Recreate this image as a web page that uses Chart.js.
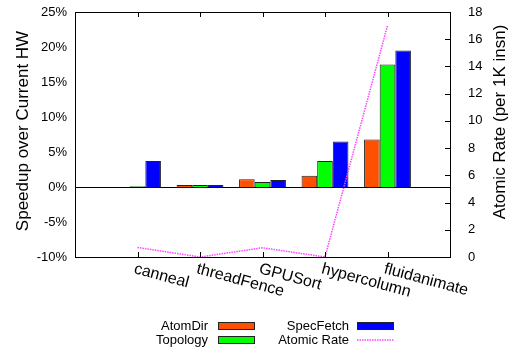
<!DOCTYPE html>
<html><head><meta charset="utf-8">
<script src="https://cdn.jsdelivr.net/npm/chart.js@4/dist/chart.umd.min.js"></script>
<style>html,body{margin:0;padding:0;background:#fff;}canvas{display:block;}</style>
</head><body>
<canvas id="c" width="511" height="350"></canvas>
<script>
const categories = ['canneal','threadFence','GPUSort','hypercolumn','fluidanimate'];
const atomDir    = [0.0, 0.3, 1.1, 1.6, 6.8];
const topology   = [0.1, 0.3, 0.7, 3.7, 17.5];
const specFetch  = [3.7, 0.3, 1.0, 6.5, 19.5];
const atomicRate = [0.7, 0.0, 0.68, 0.0, 17.0];
const leftTicks = [-10,-5,0,5,10,15,20,25];
const rightTicks = [0,2,4,6,8,10,12,14,16,18];
const leftTitle = 'Speedup over Current HW';
const rightTitle = 'Atomic Rate (per 1K insn)';

const pad = a => [null, ...a, null];
const labels = ['', ...categories, ''];
const FONT = "'Liberation Sans', Arial, sans-serif";

const decor = {
  id: 'decor',
  afterDatasetsDraw(chart) {
    const {ctx, chartArea: ca, scales} = chart;
    const x = scales.x, y = scales.y, y2 = scales.y2;
    ctx.save();
    ctx.strokeStyle = '#000'; ctx.lineWidth = 1;
    const z = Math.round(y.getPixelForValue(0)) + 0.5;
    ctx.beginPath(); ctx.moveTo(ca.left, z); ctx.lineTo(ca.right, z); ctx.stroke();
    ctx.strokeRect(Math.round(ca.left)+0.5, Math.round(ca.top)+0.5, Math.round(ca.right-ca.left), Math.round(ca.bottom-ca.top));
    ctx.beginPath();
    categories.forEach((c,i) => {
      const px = Math.round(x.getPixelForValue(i+1)) + 0.5;
      ctx.moveTo(px, ca.bottom); ctx.lineTo(px, ca.bottom-5);
      ctx.moveTo(px, ca.top); ctx.lineTo(px, ca.top+5);
    });
    rightTicks.forEach(v => {
      const py = Math.round(y2.getPixelForValue(v)) + 0.5;
      ctx.moveTo(ca.right, py); ctx.lineTo(ca.right-5, py);
    });
    ctx.stroke();
    ctx.fillStyle = '#000';
    // axis titles (both read bottom-to-top)
    ctx.font = '17px ' + FONT;
    ctx.textAlign = 'center'; ctx.textBaseline = 'middle';
    [[leftTitle, 23, 131], [rightTitle, 500, 122]].forEach(([t, tx, ty]) => {
      ctx.save(); ctx.translate(tx, ty); ctx.rotate(-Math.PI/2); ctx.fillText(t, 0, 0); ctx.restore();
    });
    // rotated category labels
    ctx.font = '16px ' + FONT;
    ctx.textAlign = 'left'; ctx.textBaseline = 'top';
    categories.forEach((c,i) => {
      const px = x.getPixelForValue(i+1);
      ctx.save();
      ctx.translate(px - 1, ca.bottom + 4);
      ctx.rotate(15 * Math.PI / 180);
      ctx.fillText(c, 0, 0);
      ctx.restore();
    });
    // legend
    const ds = chart.data.datasets;
    ctx.font = '13px ' + FONT;
    ctx.textAlign = 'right'; ctx.textBaseline = 'middle';
    const items = [
      {d: ds[0], tx: 208, sx: 218, cy: 326},
      {d: ds[1], tx: 208, sx: 218, cy: 340},
      {d: ds[2], tx: 349, sx: 357, cy: 326},
      {d: ds[3], tx: 349, sx: 357, cy: 340}
    ];
    items.forEach(it => {
      ctx.fillStyle = '#000';
      ctx.fillText(it.d.label, it.tx, it.cy);
      if (it.d.type === 'line') {
        ctx.save();
        ctx.strokeStyle = it.d.borderColor; ctx.lineWidth = it.d.borderWidth;
        ctx.setLineDash(it.d.borderDash);
        ctx.beginPath(); ctx.moveTo(it.sx, it.cy); ctx.lineTo(it.sx+37, it.cy); ctx.stroke();
        ctx.restore();
      } else {
        ctx.fillStyle = it.d.backgroundColor;
        ctx.fillRect(it.sx, it.cy-4, 37, 8);
        ctx.strokeStyle = '#222';
        ctx.strokeRect(it.sx+0.5, it.cy-3.5, 36, 7);
      }
    });
    ctx.restore();
  }
};

new Chart(document.getElementById('c'), {
  type: 'bar',
  data: {
    labels: labels,
    datasets: [
      {label: 'AtomDir', data: pad(atomDir), backgroundColor: '#ff5000', borderColor: '#222', borderWidth: 1, yAxisID: 'y', order: 2},
      {label: 'Topology', data: pad(topology), backgroundColor: '#00ff00', borderColor: '#222', borderWidth: 1, yAxisID: 'y', order: 2},
      {label: 'SpecFetch', data: pad(specFetch), backgroundColor: '#0000ff', borderColor: '#222', borderWidth: 1, yAxisID: 'y', order: 2},
      {label: 'Atomic Rate', type: 'line', data: pad(atomicRate), borderColor: '#ff44ff', borderWidth: 1.5, borderDash: [1.5, 1], pointRadius: 0, tension: 0, fill: false, yAxisID: 'y2', order: 1}
    ]
  },
  options: {
    responsive: false, animation: false, devicePixelRatio: 1,
    layout: {padding: {top: 12, left: 0, right: 0, bottom: 0}},
    categoryPercentage: 0.75, barPercentage: 1.0,
    plugins: {legend: {display: false}, tooltip: {enabled: false}},
    scales: {
      x: {
        type: 'category', offset: false,
        grid: {display: false, drawTicks: false}, border: {display: false},
        ticks: {display: false},
        afterFit(s) { s.height = 93; s.paddingLeft = 0; s.paddingRight = 0; }
      },
      y: {
        position: 'left', min: -10, max: 25,
        afterBuildTicks(s) { s.ticks = leftTicks.map(v => ({value: v})); },
        grid: {display: false, drawTicks: false}, border: {display: false},
        ticks: {callback: v => v + '%', font: {size: 13, family: FONT}, color: '#000', padding: 8},
        title: {display: false, text: leftTitle},
        afterFit(s) { s.width = 75; s.paddingTop = 0; s.paddingBottom = 0; }
      },
      y2: {
        position: 'right', min: 0, max: 18,
        afterBuildTicks(s) { s.ticks = rightTicks.map(v => ({value: v})); },
        grid: {display: false, drawTicks: false}, border: {display: false},
        ticks: {font: {size: 13, family: FONT}, color: '#000', padding: 18},
        title: {display: false, text: rightTitle},
        afterFit(s) { s.width = 61; s.paddingTop = 0; s.paddingBottom = 0; }
      }
    }
  },
  plugins: [decor]
});
</script>
</body></html>
